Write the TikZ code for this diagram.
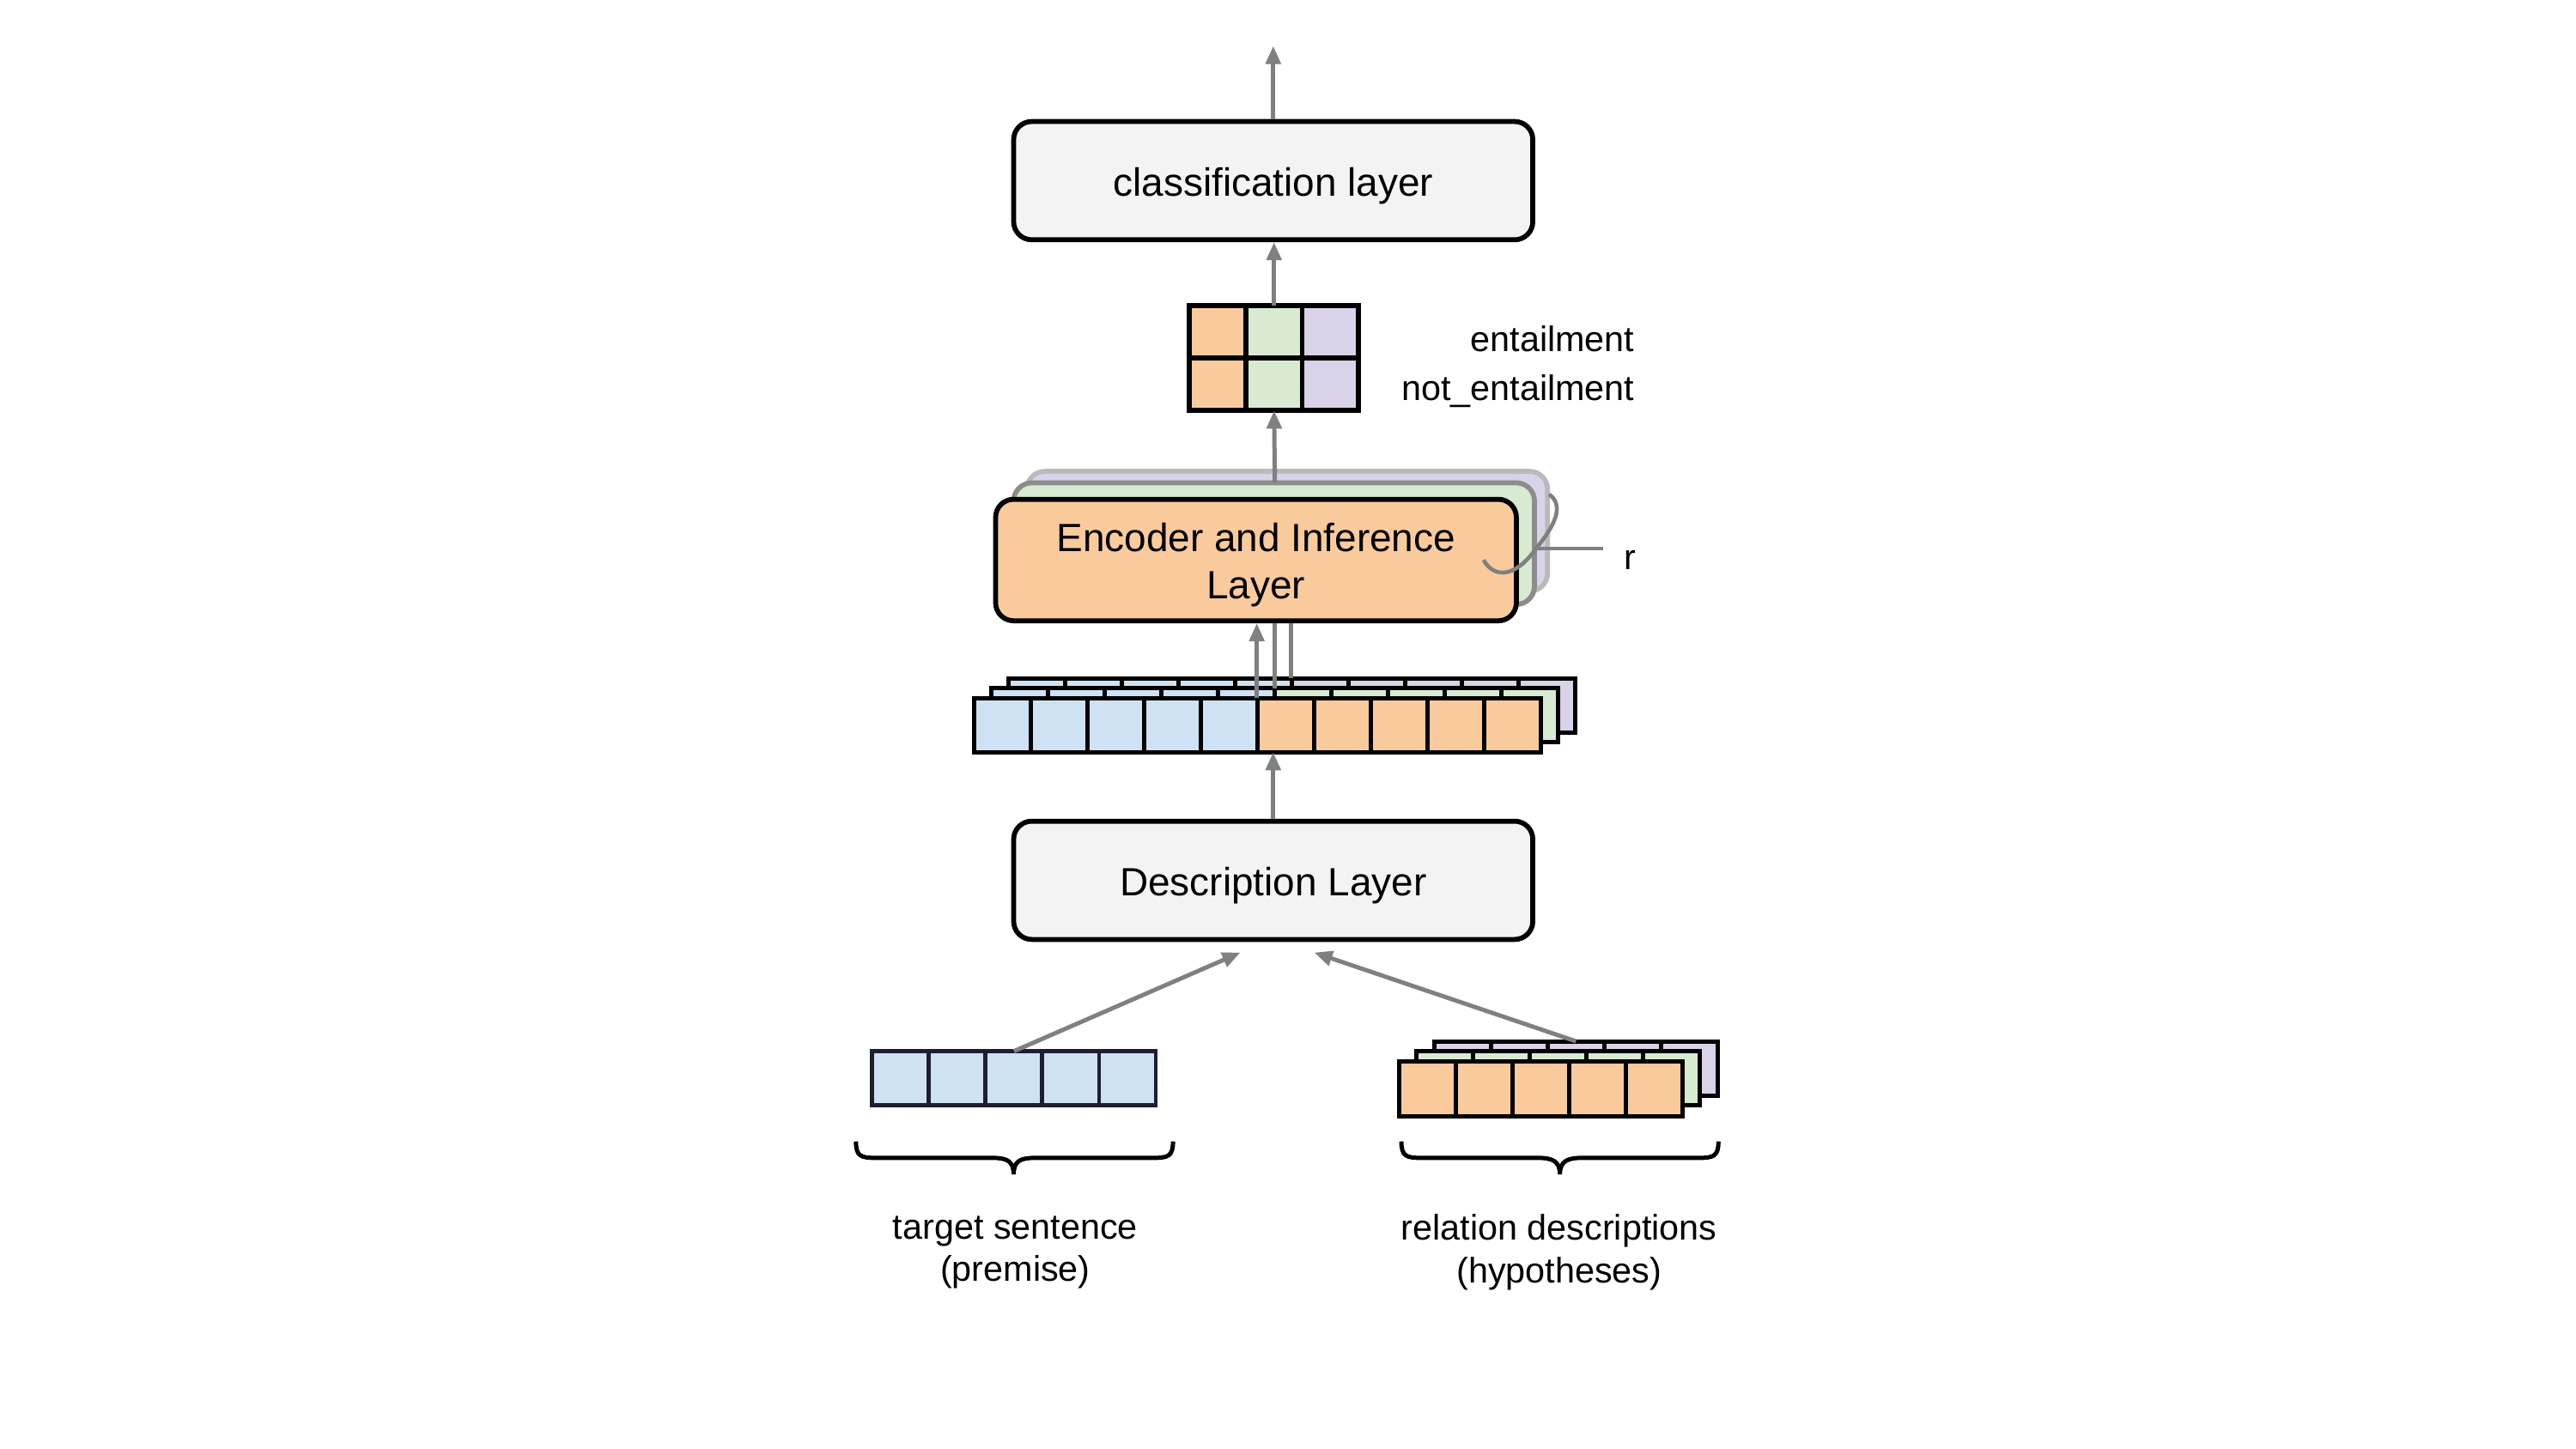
\documentclass[tikz,border=0pt]{standalone}
\usepackage{fontspec}
\setmainfont{Liberation Sans}
\usetikzlibrary{arrows.meta}
\definecolor{gfill}{HTML}{F3F3F3}
\definecolor{cblue}{HTML}{CFE2F3}
\definecolor{corange}{HTML}{F9CB9C}
\definecolor{cgreen}{HTML}{D9EAD3}
\definecolor{cpurple}{HTML}{D9D2E9}
\definecolor{arrgray}{HTML}{808080}
\definecolor{midgray}{HTML}{8C8C8C}
\definecolor{lightgray2}{HTML}{BABABA}
\definecolor{navy}{HTML}{1E1E32}
\begin{document}
\begin{tikzpicture}[x=1pt,y=-1pt,
  layer/.style={draw=black, line width=3pt, rounded corners=11pt, fill=gfill, minimum width=316pt, minimum height=72pt, inner sep=0pt, font=\fontsize{24}{29}\selectfont, align=center, text height=20.5pt, text depth=2pt},
  encbox/.style={line width=3pt, rounded corners=11pt, minimum width=317pt, minimum height=74pt, inner sep=0pt, font=\fontsize{24}{29}\selectfont, align=center},
  cell/.style={draw=black, line width=2.6pt, minimum width=34.5pt, minimum height=33pt, inner sep=0pt, outer sep=0pt},
  mcell/.style={draw=black, line width=3pt, minimum width=34.33pt, minimum height=32pt, inner sep=0pt, outer sep=0pt},
  arr/.style={draw=arrgray, line width=2.6pt, -{Triangle[length=11pt,width=9pt]}},
  gline/.style={draw=arrgray, line width=2.6pt},
  lbl/.style={font=\fontsize{21.6}{26}\selectfont, inner sep=0pt, align=center},
  bracestyle/.style={draw=black, line width=2.6pt},
]
\useasboundingbox (0,0) rectangle (1568,882);

% classification layer
\node[layer] (cls) at (775,110) {classification layer};
\coordinate (out) at (775,28);
\draw[arr] (cls.north) -- (out);

% output matrix
\foreach \r in {0,1} {
  \node[mcell, fill=corange] (m\r0) at ({724+17.17},{186+16+32*\r}) {};
  \node[mcell, fill=cgreen]  (m\r1) at ({724+17.17+34.33},{186+16+32*\r}) {};
  \node[mcell, fill=cpurple] (m\r2) at ({724+17.17+68.66},{186+16+32*\r}) {};
}
\draw[arr] (m01.north) -- (m01.north |- cls.south);
\node[lbl, anchor=base east] (ent) at (995,214) {entailment};
\node[lbl, anchor=base east] (nent) at (995,244) {not\_entailment};

% encoder stack
\node[encbox, draw=lightgray2, fill=cpurple, minimum height=73pt] (encP) at (783.5,323.5) {};
\node[encbox, draw=midgray, fill=cgreen] (encG) at (775.5,331) {};
\draw[arr] (776,294) -- (m11.south);
\node[encbox, draw=black, fill=corange, text height=49.5pt, text depth=2pt] (enc) at (764.5,341) {Encoder and Inference\\Layer};

% r brace
\coordinate (rb1) at (903,341);
\coordinate (rb2) at (935,334);
\coordinate (rb3) at (943,301);
\coordinate (rend) at (976,334);
\draw[gline, line width=2.4pt] (rb1) .. controls (910,353) and (923,351) .. (rb2) .. controls (943,324) and (954,309) .. (rb3);
\draw[gline, line width=2.4pt] (rb2) -- (rend);
\node[lbl, anchor=base] (rlab) at (992,347) {r};

% token sequences (middle)
\foreach \i in {0,...,4} {
  \node[cell, fill=cblue] (p\i) at ({614+17.25+34.5*\i},429.5) {};
}
\foreach \i in {5,...,9} {
  \node[cell, fill=cpurple] (p\i) at ({614+17.25+34.5*\i},429.5) {};
}
\foreach \i in {0,...,4} {
  \node[cell, fill=cblue] (g\i) at ({603.5+17.25+34.5*\i},435.5) {};
}
\foreach \i in {5,...,9} {
  \node[cell, fill=cgreen] (g\i) at ({603.5+17.25+34.5*\i},435.5) {};
}
\foreach \i in {0,...,4} {
  \node[cell, fill=cblue] (f\i) at ({593+17.25+34.5*\i},441.5) {};
}
\foreach \i in {5,...,9} {
  \node[cell, fill=corange] (f\i) at ({593+17.25+34.5*\i},441.5) {};
}
\coordinate (s1) at (765,425);
\coordinate (s2) at (776,419);
\coordinate (s3) at (786,413);
\draw[arr] (s1) -- (s1 |- enc.south);
\draw[gline] (s2) -- (s2 |- enc.south);
\draw[gline] (s3) -- (s3 |- enc.south);

% description layer
\node[layer] (desc) at (775,536) {Description Layer};
\draw[arr] (desc.north) -- (desc.north |- f5.south);

% left sequence (premise)
\foreach \i in {0,...,4} {
  \node[cell, draw=navy, fill=cblue] (l\i) at ({531+17.25+34.5*\i},656.5) {};
}
% right stacked sequences (hypotheses)
\foreach \i in {0,...,4} {
  \node[cell, fill=cpurple] (rp\i) at ({873+17.25+34.5*\i},650.5) {};
}
\foreach \i in {0,...,4} {
  \node[cell, fill=cgreen] (rg\i) at ({862+17.25+34.5*\i},656.5) {};
}
\foreach \i in {0,...,4} {
  \node[cell, fill=corange] (ro\i) at ({851.5+17.25+34.5*\i},663) {};
}
\coordinate (dL) at (755,580);
\coordinate (dR) at (800,580);
\draw[arr] (l2.north) -- (dL);
\draw[arr] (rp2.north) -- (dR);

% braces
\draw[bracestyle] (521,695) .. controls (521,704) and (524,705) .. (533,705) -- (604,705) .. controls (613,705) and (617,707) .. (617,715) .. controls (617,707) and (621,705) .. (630,705) -- (702,705) .. controls (711,705) and (714,704) .. (714,695);
\draw[bracestyle] (853,695) .. controls (853,704) and (856,705) .. (865,705) -- (936,705) .. controls (945,705) and (949.5,707) .. (949.5,715) .. controls (949.5,707) and (954,705) .. (963,705) -- (1034,705) .. controls (1043,705) and (1046,704) .. (1046,695);

% bottom labels
\node[lbl] (tlab) at (618,762.5) {target sentence\\(premise)};
\node[lbl] (rlabs) at (949,762.5) {relation descriptions\\(hypotheses)};
\end{tikzpicture}
\end{document}
